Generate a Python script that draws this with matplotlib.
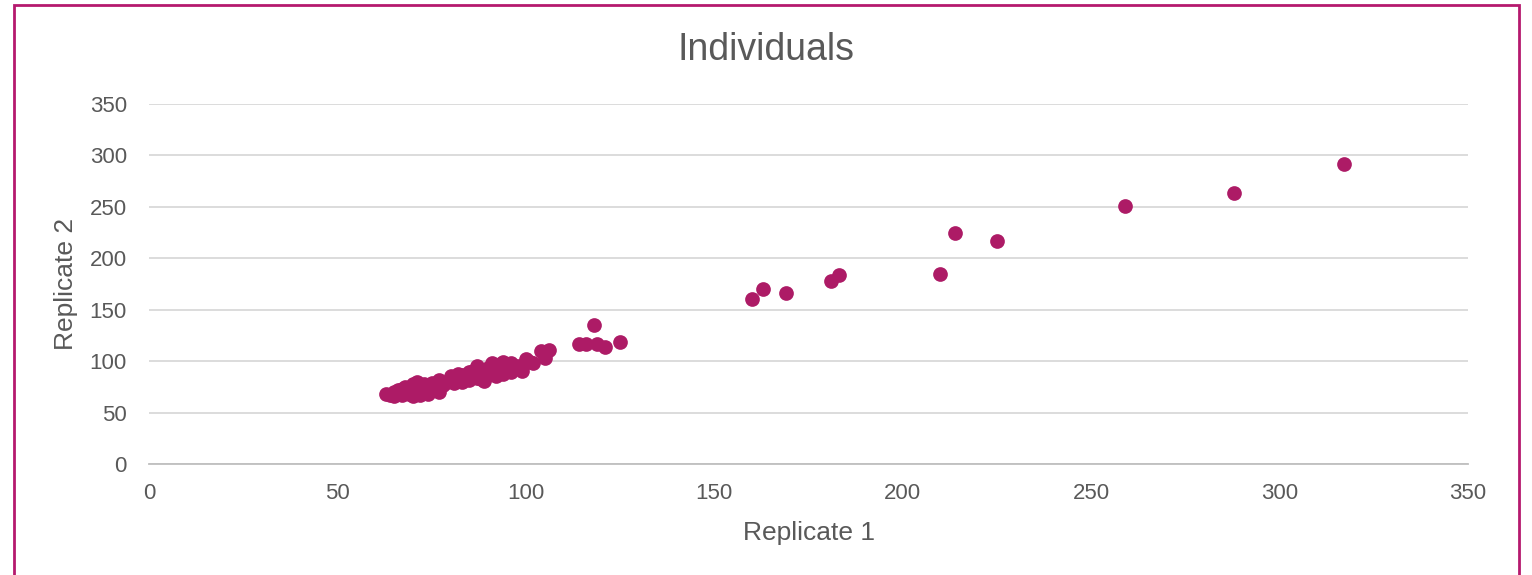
import matplotlib.pyplot as plt
from matplotlib.patches import Rectangle

plt.rcParams["font.family"] = ["Liberation Sans", "DejaVu Sans"]

# replicate 1 / replicate 2 values
rep1 = [63, 64, 65, 65, 66, 66, 67, 67, 68, 68, 69, 69, 70, 70, 70, 71, 71, 72, 72,
        73, 73, 74, 74, 75, 75, 76, 77, 77, 78, 79, 80, 80, 81, 82, 82, 83, 83, 84,
        85, 85, 86, 86, 87, 87, 88, 88, 89, 89, 90, 90, 91, 91, 92, 92, 93, 93, 94,
        94, 95, 95, 96, 96, 97, 98, 99, 100, 101, 102,
        104, 105, 106, 114, 116, 118, 119, 121, 125,
        160, 163, 169, 181, 183, 210, 214, 225, 259, 288, 317]
rep2 = [68, 67, 70, 66, 69, 72, 67, 73, 70, 75, 68, 74, 66, 72, 78, 69, 80, 67, 75,
        71, 78, 68, 76, 72, 79, 74, 70, 82, 77, 80, 83, 86, 79, 85, 88, 80, 87, 84,
        82, 89, 86, 90, 84, 95, 83, 91, 81, 88, 87, 93, 92, 98, 86, 95, 90, 97, 88,
        99, 92, 96, 89, 98, 94, 95, 90, 102, 99, 98,
        110, 103, 111, 117, 117, 135, 117, 114, 119,
        160, 170, 166, 178, 184, 185, 225, 217, 251, 264, 292]

color = "#AD1B66"
grey = "#595959"

fig = plt.figure(figsize=(15.32, 5.75), dpi=100)
ax = fig.add_axes([0.0973, 0.193, 0.8609, 0.626])

ax.scatter(rep1, rep2, s=112, color=color, zorder=3, linewidths=0)

ax.set_xlim(0, 350)
ax.set_ylim(0, 350)
ax.set_xticks(range(0, 351, 50))
ax.set_yticks(range(0, 351, 50))
ax.grid(axis="y", color="#D9D9D9", linewidth=1.3)
ax.set_axisbelow(True)
for s in ["top", "right", "left"]:
    ax.spines[s].set_visible(False)
ax.spines["bottom"].set_color("#BFBFBF")
ax.spines["bottom"].set_linewidth(1.3)
ax.tick_params(length=0, labelsize=16, labelcolor=grey)
ax.tick_params(axis="x", pad=14)
ax.tick_params(axis="y", pad=16)

ax.set_xlabel("Replicate 1", fontsize=19, color=grey, labelpad=12)
ax.set_ylabel("Replicate 2", fontsize=19, color=grey, labelpad=8)
fig.text(0.5, 1 - 50 / 575, "Individuals", fontsize=27, color=grey,
         ha="center", va="center")

# magenta frame around the chart
fig.patches.append(Rectangle((14 / 1532, -0.1), 1505 / 1532, 1.1 - 5 / 575,
                             transform=fig.transFigure, fill=False,
                             edgecolor="#B5196E", linewidth=2))

fig.savefig("out.png", dpi=100)
